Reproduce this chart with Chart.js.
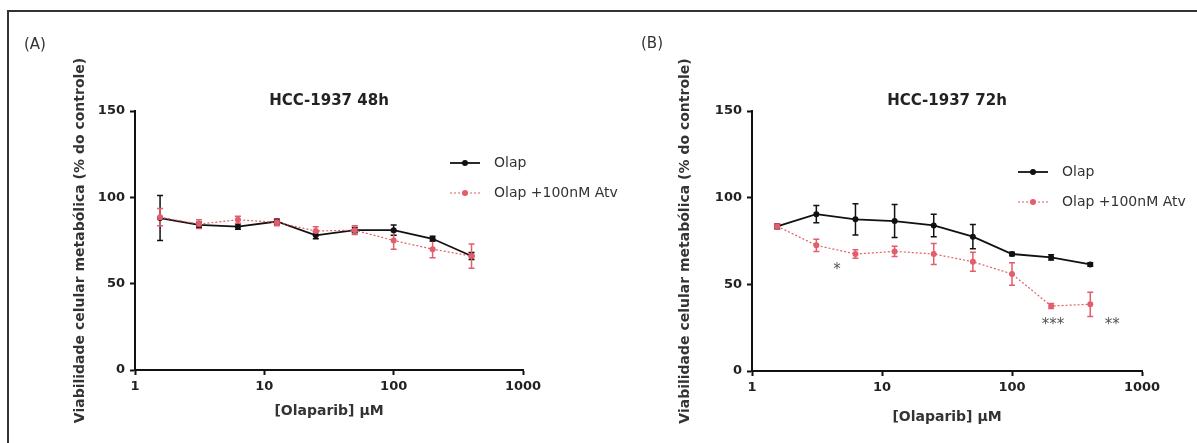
<!DOCTYPE html>
<html>
<head>
<meta charset="utf-8">
<title>HCC-1937 Olaparib</title>
<script src="https://cdn.jsdelivr.net/npm/chart.js@4"></script>
<style>
body { margin: 0; background: #fff; }
.wrap { position: relative; width: 1197px; height: 443px; overflow: hidden; }
.frame { position: absolute; left: 7px; top: 10px; width: 1200px; height: 440px;
  border-top: 2px solid #333; border-left: 2px solid #333; }
.panel { position: absolute; font-family: "DejaVu Sans", sans-serif; font-size: 15px; color: #333; }
canvas { position: absolute; top: 0; }
</style>
</head>
<body>
<div class="wrap">
  <div class="frame"></div>
  <canvas id="c48" width="640" height="443" style="left:0"></canvas>
  <canvas id="c72" width="599" height="443" style="left:598px"></canvas>
  <div class="panel" style="left:24px; top:35px">(A)</div>
  <div class="panel" style="left:641px; top:34px">(B)</div>
</div>
<script>
// olaparib concentrations (uM)
const conc = [1.5625, 3.125, 6.25, 12.5, 25, 50, 100, 200, 400];
const xTicks = [1, 10, 100, 1000];
const yTicks = [0, 50, 100, 150];

// 48h
const olap48 = [88, 84, 83, 86, 78, 81, 81, 76, 66];
const olap48Err = [13, 1.5, 1.5, 1.5, 2, 1.5, 3, 1.5, 2];
const atv48 = [88.5, 84.5, 87, 85.5, 80.5, 81, 75, 70, 66];
const atv48Err = [5, 2.5, 2, 2, 2.5, 2.5, 5, 5, 7];

// 72h
const olap72 = [83.5, 90.5, 87.5, 86.5, 84, 77.5, 67.5, 65.5, 61.5];
const olap72Err = [1.5, 5, 9, 9.5, 6.5, 7, 1, 1.5, 1];
const atv72 = [83.5, 72.5, 67.5, 69, 67.5, 63, 56, 37.5, 38.5];
const atv72Err = [1.5, 3.5, 2.5, 3, 6, 5.5, 6.5, 1.5, 7];

// significance marks (72h)
const starX = [4.5, 207, 590];
const starY = [60, 28, 28];
const starText = ["*", "***", "**"];

const FONT = "'DejaVu Sans', sans-serif";
const BLACK = "#111";
const RED = "#e35d6a";

const errorBars = {
  id: "errorBars",
  beforeDatasetsDraw(chart) {
    const { x, y } = chart.scales;
    const ctx = chart.ctx;
    chart.data.datasets.forEach((ds) => {
      ctx.save();
      ctx.strokeStyle = ds.borderColor;
      ctx.lineWidth = 1.5;
      ds.data.forEach((p, i) => {
        const e = ds.errors[i];
        const px = x.getPixelForValue(p.x);
        const t = y.getPixelForValue(p.y + e);
        const b = y.getPixelForValue(p.y - e);
        ctx.beginPath();
        ctx.moveTo(px, t); ctx.lineTo(px, b);
        ctx.moveTo(px - 3, t); ctx.lineTo(px + 3, t);
        ctx.moveTo(px - 3, b); ctx.lineTo(px + 3, b);
        ctx.stroke();
      });
      ctx.restore();
    });
  }
};

const sideLegend = {
  id: "sideLegend",
  afterDraw(chart, args, opts) {
    const ctx = chart.ctx;
    chart.data.datasets.forEach((ds, i) => {
      const y = opts.y + i * 30;
      ctx.save();
      ctx.strokeStyle = ds.borderColor;
      ctx.lineWidth = ds.borderWidth;
      ctx.setLineDash(ds.borderDash || []);
      ctx.beginPath();
      ctx.moveTo(opts.x, y); ctx.lineTo(opts.x + 30, y);
      ctx.stroke();
      ctx.setLineDash([]);
      ctx.fillStyle = ds.borderColor;
      ctx.beginPath();
      ctx.arc(opts.x + 15, y, 3, 0, Math.PI * 2);
      ctx.fill();
      ctx.fillStyle = "#333";
      ctx.font = "14px " + FONT;
      ctx.textBaseline = "middle";
      ctx.fillText(ds.label, opts.x + 44, y);
      ctx.restore();
    });
  }
};

const stars = {
  id: "stars",
  afterDraw(chart, args, opts) {
    if (!opts.show) return;
    const { x, y } = chart.scales;
    const ctx = chart.ctx;
    ctx.save();
    ctx.fillStyle = "#555";
    ctx.font = "15px " + FONT;
    ctx.textAlign = "center";
    ctx.textBaseline = "middle";
    starText.forEach((s, i) => {
      ctx.fillText(s, x.getPixelForValue(starX[i]), y.getPixelForValue(starY[i]) + 3);
    });
    ctx.restore();
  }
};

function makeChart(id, cfg) {
  return new Chart(document.getElementById(id), {
    type: "line",
    data: {
      datasets: [
        {
          label: "Olap",
          data: conc.map((c, i) => ({ x: c, y: cfg.olap[i] })),
          errors: cfg.olapErr,
          borderColor: BLACK, backgroundColor: BLACK,
          borderWidth: 1.8, pointRadius: 3, pointBorderWidth: 0,
          order: 1
        },
        {
          label: "Olap +100nM Atv",
          data: conc.map((c, i) => ({ x: c, y: cfg.atv[i] })),
          errors: cfg.atvErr,
          borderColor: RED, backgroundColor: RED,
          borderWidth: 1.2, borderDash: [2, 2], pointRadius: 3, pointBorderWidth: 0,
          order: 0
        }
      ]
    },
    options: {
      responsive: false,
      animation: false,
      devicePixelRatio: 1,
      layout: { padding: cfg.pad },
      plugins: {
        legend: { display: false },
        tooltip: { enabled: false },
        title: {
          display: true, text: cfg.title, fullSize: false, color: "#222",
          font: { family: FONT, size: 15, weight: "bold" },
          padding: { top: 92, bottom: 1 }
        },
        sideLegend: cfg.legend,
        stars: { show: cfg.stars }
      },
      scales: {
        x: {
          type: "logarithmic", min: 1, max: 1000,
          afterFit: (s) => { s.height = cfg.xHeight; },
          afterBuildTicks: (s) => { s.ticks = xTicks.map((v) => ({ value: v })); },
          ticks: {
            color: "#222", padding: 4, autoSkip: false, maxRotation: 0,
            font: { family: FONT, size: 13, weight: "bold" },
            callback: (v) => String(v)
          },
          grid: { drawOnChartArea: false, tickLength: 5, tickColor: BLACK, tickWidth: 2 },
          border: { color: BLACK, width: 2 },
          title: {
            display: true, text: "[Olaparib] \u00b5M", color: "#333",
            font: { family: FONT, size: 14, weight: "bold" }
          }
        },
        y: {
          min: 0, max: 150,
          afterFit: (s) => { s.width = cfg.yWidth; },
          afterBuildTicks: (s) => { s.ticks = yTicks.map((v) => ({ value: v })); },
          ticks: {
            color: "#222", padding: 5,
            font: { family: FONT, size: 13, weight: "bold" }
          },
          grid: { drawOnChartArea: false, tickLength: 5, tickColor: BLACK, tickWidth: 2 },
          border: { color: BLACK, width: 2 },
          title: {
            display: true, text: "Viabilidade celular metabólica (% do controle)", color: "#333",
            font: { family: FONT, size: 14, weight: "bold" }
          }
        }
      }
    },
    plugins: [errorBars, sideLegend, stars]
  });
}

makeChart("c48", {
  title: "HCC-1937 48h",
  olap: olap48, olapErr: olap48Err, atv: atv48, atvErr: atv48Err,
  pad: { left: 68, right: 117, top: 0, bottom: 19 },
  yWidth: 67, xHeight: 54,
  legend: { x: 450, y: 163 },
  stars: false
});

makeChart("c72", {
  title: "HCC-1937 72h",
  olap: olap72, olapErr: olap72Err, atv: atv72, atvErr: atv72Err,
  pad: { left: 75, right: 55, top: 0, bottom: 13 },
  yWidth: 79, xHeight: 59,
  legend: { x: 420, y: 172 },
  stars: true
});
</script>
</body>
</html>
